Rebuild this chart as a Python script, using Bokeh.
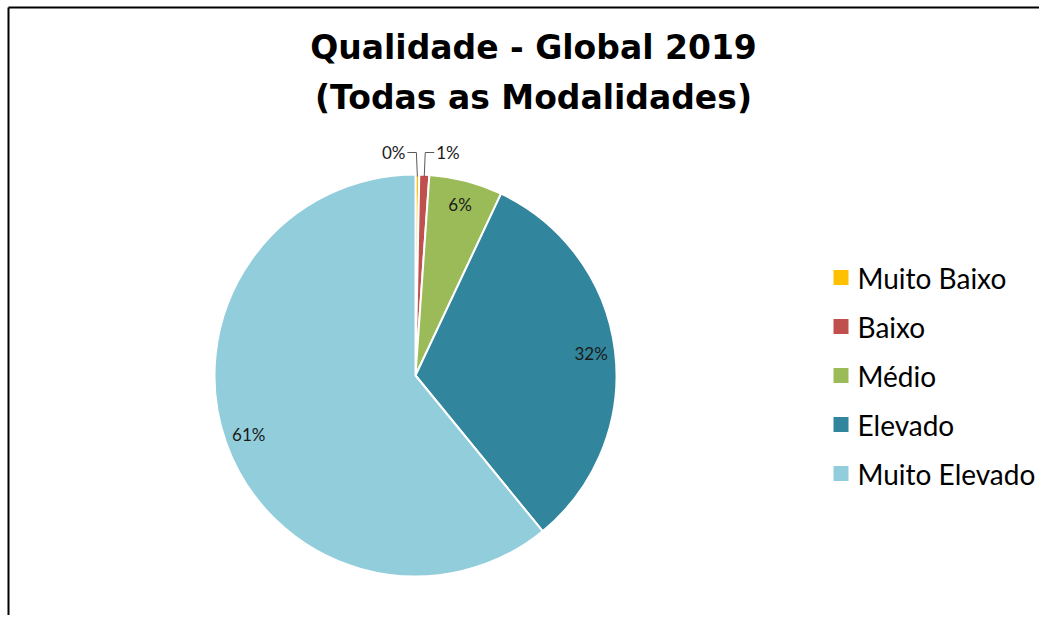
import math
from bokeh.plotting import figure
from bokeh.models import Range1d
from bokeh.core.properties import value
from bokeh.embed import file_html
from bokeh.resources import INLINE

# ---- data ----
categories = ["Muito Baixo", "Baixo", "Médio", "Elevado", "Muito Elevado"]
shares = [0.3, 0.8, 5.9, 32.1, 60.9]
colors = ["#FFC000", "#C0504D", "#9BBB59", "#31859C", "#92CDDC"]
title_lines = ["Qualidade - Global 2019", "(Todas as Modalidades)"]

W, H = 1039, 615

def sy(y):  # picture y -> data y
    return H - y

def sx(x):
    return x

p = figure(width=W, height=H, output_backend="svg", toolbar_location=None,
           x_range=Range1d(0, W), y_range=Range1d(0, H), min_border=0)
p.axis.visible = False
p.grid.visible = False
p.outline_line_color = None
p.background_fill_color = "white"
p.border_fill_color = "white"

# frame lines (top + left only visible)
p.line(x=[sx(8), sx(8)], y=[0, sy(7)], line_color="black", line_width=2)
p.line(x=[sx(8), W], y=[sy(7), sy(7)], line_color="black", line_width=2)

# title
for i, t in enumerate(title_lines):
    p.text(x=[sx(533)], y=[sy(47 + 50 * i)], text=[t], text_align="center",
           text_baseline="middle", text_font=value("DejaVu Sans"),
           text_font_style="bold", text_font_size="33px", text_color="black")

# pie
cx, cy, R = sx(415), sy(375), 201
total = sum(shares)
cum = 0.0
starts, ends, mids = [], [], []
for s in shares:
    a0 = cum / total
    cum += s
    a1 = cum / total
    starts.append(math.pi / 2 - 2 * math.pi * a0)
    ends.append(math.pi / 2 - 2 * math.pi * a1)
    mids.append(math.pi / 2 - 2 * math.pi * (a0 + a1) / 2)

p.wedge(x=cx, y=cy, radius=R, start_angle=starts, end_angle=ends,
        direction="clock", fill_color=colors, line_color="white", line_width=2)

labels = [f"{round(s)}%" for s in shares]
font = value("Lato")
for i, (lab, m) in enumerate(zip(labels, mids)):
    if shares[i] >= 3:
        r = 177
        p.text(x=[cx + r * math.cos(m)], y=[cy + r * math.sin(m)], text=[lab],
               text_align="center", text_baseline="middle", text_font=font,
               text_font_size="17px", text_color="#1a1a1a")
    else:
        ex, ey = cx + (R - 2) * math.cos(m), cy + (R - 2) * math.sin(m)
        ly = cy + R + 22
        side = -1 if i == 0 else 1
        kx = ex + side * 1
        p.line(x=[ex, kx, kx + side * 9], y=[ey, ly, ly], line_color="#595959", line_width=1)
        p.text(x=[kx + side * 11], y=[ly], text=[lab],
               text_align="right" if side < 0 else "left", text_baseline="middle",
               text_font=font, text_font_size="17px", text_color="#1a1a1a")

# legend
for i, (c, col) in enumerate(zip(categories, colors)):
    ly = sy(277 + 49 * i)
    p.rect(x=[sx(840.5)], y=[ly], width=15, height=15, fill_color=col, line_color=None)
    p.text(x=[sx(857)], y=[ly], text=[c], text_align="left", text_baseline="middle",
           text_font=font, text_font_size="28px", text_color="black")

open("out.html", "w").write(file_html(p, INLINE))
